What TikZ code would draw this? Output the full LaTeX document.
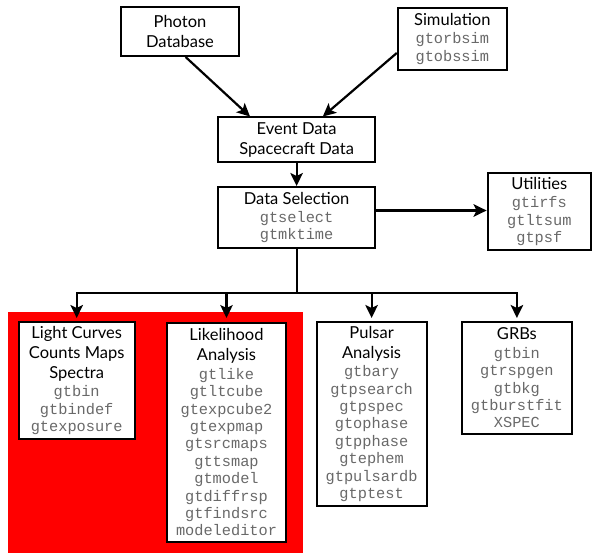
\documentclass[tikz,border=0pt]{standalone}
\usepackage{fontspec}
\setmainfont{Lato}
\setmonofont{Liberation Mono}
\usetikzlibrary{arrows.meta}
\definecolor{codegray}{RGB}{105,105,105}
\newcommand{\cmd}[1]{{\color{codegray}\ttfamily\fontsize{15.3}{17.4}\selectfont #1}}
\tikzset{
  box/.style={draw=black, line width=2pt, fill=white, align=center, inner sep=0pt,
    font=\fontsize{16.5}{17.4}\selectfont},
  arr/.style={line width=2.2pt, -{Stealth[length=13pt,width=12.5pt,inset=3pt]}},
  wire/.style={line width=2.2pt}
}
\begin{document}
\begin{tikzpicture}[x=1pt,y=-1pt]
\useasboundingbox (0,0) rectangle (594,553);
\fill[red] (7.6,312) rectangle (303.1,553);

\node[box, minimum width=117.5pt, minimum height=49pt] (photon) at (180,31.5) {Photon\\[2.6pt]Database};
\node[box, minimum width=109pt, minimum height=62pt] (sim) at (452.3,39) {Simulation\\[1pt]\cmd{gtorbsim}\\\cmd{gtobssim}};
\node[box, minimum width=156.8pt, minimum height=45pt] (event) at (296.6,140) {Event Data\\[2.6pt]Spacecraft Data};
\node[box, minimum width=156.8pt, minimum height=61pt] (sel) at (296.6,217.5) {Data Selection\\[1pt]\cmd{gtselect}\\\cmd{gtmktime}};
\node[box, minimum width=103.4pt, minimum height=77pt] (util) at (539.3,211.5) {Utilities\\[1pt]\cmd{gtirfs}\\\cmd{gtltsum}\\\cmd{gtpsf}};

\node[box, minimum width=115.6pt, minimum height=117pt] (lc) at (76.7,380.5) {Light Curves\\[2.6pt]Counts Maps\\[2.6pt]Spectra\\[1pt]\cmd{gtbin}\\\cmd{gtbindef}\\\cmd{gtexposure}};
\node[box, minimum width=119.7pt, minimum height=219pt] (like) at (226.5,432.5) {Likelihood\\[2.6pt]Analysis\\[1pt]\cmd{gtlike}\\\cmd{gtltcube}\\\cmd{gtexpcube2}\\\cmd{gtexpmap}\\\cmd{gtsrcmaps}\\\cmd{gttsmap}\\\cmd{gtmodel}\\\cmd{gtdiffrsp}\\\cmd{gtfindsrc}\\\cmd{modeleditor}};
\node[box, minimum width=109.9pt, minimum height=184pt] (pulsar) at (371.6,414) {Pulsar\\[2.6pt]Analysis\\[1pt]\cmd{gtbary}\\\cmd{gtpsearch}\\\cmd{gtpspec}\\\cmd{gtophase}\\\cmd{gtpphase}\\\cmd{gtephem}\\\cmd{gtpulsardb}\\\cmd{gtptest}};
\node[box, minimum width=110.2pt, minimum height=112pt] (grb) at (516.9,378) {GRBs\\[1pt]\cmd{gtbin}\\\cmd{gtrspgen}\\\cmd{gtbkg}\\\cmd{gtburstfit}\\\cmd{XSPEC}};

\draw[arr] ([xshift=5.6pt]photon.south) -- ([xshift=-46.6pt]event.north);
\draw[arr] ([yshift=-14pt]sim.west) -- ([xshift=26.2pt]event.north);
\draw[arr] (event.south) -- (sel.north);
\draw[arr] ([yshift=7pt]sel.east) coordinate (se) -- (se -| util.west);

\coordinate (bus) at (296.6,293);
\draw[wire] (sel.south) -- (bus);
\draw[arr] (bus) -| ([yshift=3pt]lc.north);
\draw[arr] (bus) -| ([yshift=4pt]like.north);
\draw[arr] (bus) -| ([yshift=3pt]pulsar.north);
\draw[arr] (bus) -| ([yshift=3pt]grb.north);
\end{tikzpicture}
\end{document}
